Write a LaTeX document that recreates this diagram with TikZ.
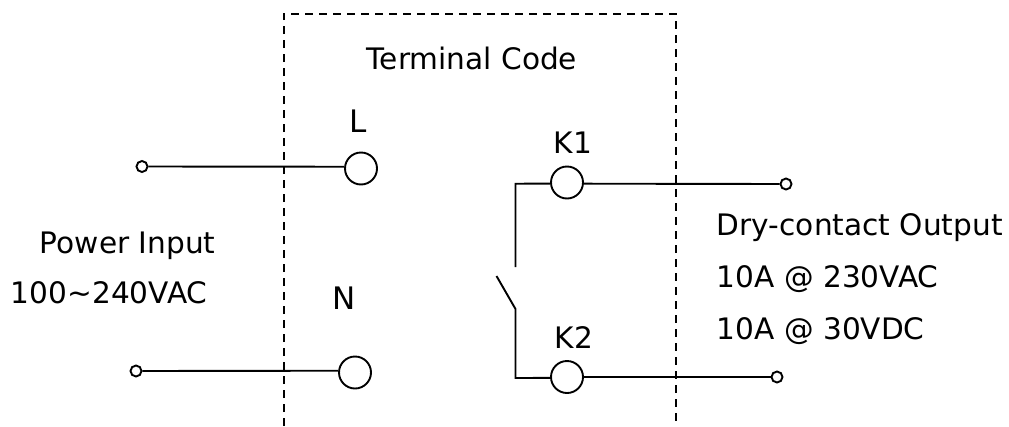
\documentclass[tikz,border=0pt]{standalone}
\usepackage{fontspec}
\setmainfont{DejaVu Sans}
\usepackage{tikz}

\begin{document}
\begin{tikzpicture}[x=1pt,y=-1pt,line width=1.9pt,
    term/.style={circle, draw, fill=white, minimum size=32pt, inner sep=0pt},
    tip/.style={circle, draw, fill=white, minimum size=11pt, inner sep=0pt},
    lbl/.style={inner sep=0pt, anchor=base, font=\fontsize{29.6}{30}\selectfont},
    lbll/.style={lbl, anchor=base west},
    boxline/.style={line width=2pt, dash pattern=on 8pt off 6pt}]

\useasboundingbox (0,0) rectangle (1009,426);

\draw[boxline] (283.5,426) -- (283.5,13.5) -- (675.5,13.5) -- (675.5,421);

\node[term] (L) at (361,168.5) {};
\node[term] (N) at (355,372.5) {};
\node[term] (K1) at (567,182.5) {};
\node[term] (K2) at (567,377) {};

\node[tip] (inL) at (142,166.5) {};
\node[tip] (inN) at (136,371) {};
\node[tip] (outK1) at (786,184) {};
\node[tip] (outK2) at (777,377) {};

\coordinate (cK1) at (515.5,183.7);
\coordinate (swA) at (515.5,267);
\coordinate (swB) at (496.5,276);
\coordinate (swC) at (515.5,309);
\coordinate (cK2) at (515.5,378);

\path (inL) edge (L.174)
      (inN) edge (N.174)
      (K1.356) edge (outK1)
      (K2) edge (outK2);

\draw (K1.184) -- (cK1) -- (swA);
\draw (swB) -- (swC) -- (cK2) -- (K2.183);

\node[lbl] (title) at (472,69) {Terminal Code};
\node[lbl] (nameL) at (358,132) {\fontsize{31}{31}\selectfont L};
\node[lbl] (nameN) at (344,309) {\fontsize{31}{31}\selectfont N};
\node[lbl] (nameK1) at (573,153) {K1};
\node[lbl] (nameK2) at (574,348) {K2};

\node[lbll] (power) at (39,253) {Power Input};
\node[lbll] (range) at (10,303) {100\textasciitilde 240VAC};
\node[lbll] (dry) at (716,235) {Dry-contact Output};
\node[lbll] (ac) at (716,287) {10A @ 230VAC};
\node[lbll] (dc) at (716,339) {10A @ 30VDC};

\end{tikzpicture}
\end{document}
